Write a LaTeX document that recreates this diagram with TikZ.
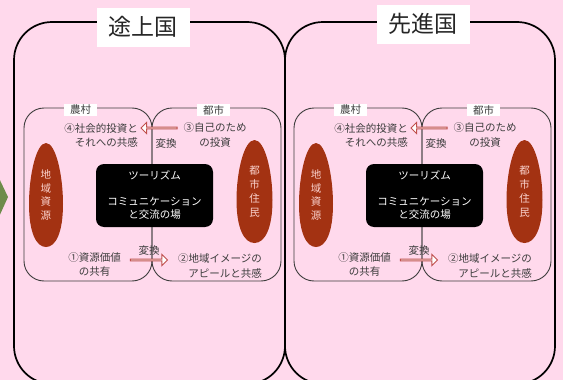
\documentclass[tikz,border=0pt]{standalone}
\usepackage{fontspec}
\setmainfont{Noto Sans CJK JP}
\usetikzlibrary{shapes.geometric,shapes.arrows}
\definecolor{bgpink}{RGB}{255,217,236}
\definecolor{eggred}{RGB}{163,50,18}
\definecolor{txtgray}{RGB}{60,60,60}
\definecolor{arrred}{RGB}{192,80,77}
\definecolor{leaf}{RGB}{110,140,75}
\definecolor{eggtxt}{RGB}{250,210,205}
\begin{document}
\begin{tikzpicture}[x=1pt,y=-1pt,
  bigbox/.style={draw=black,line width=1.7pt,rounded corners=38pt},
  areabox/.style={draw=txtgray,line width=0.9pt,rounded corners=20pt},
  titlebox/.style={fill=white,minimum width=93pt,minimum height=39pt,inner sep=0pt,font=\fontsize{23}{26}\selectfont,text=black!85},
  arealabel/.style={fill=white,inner xsep=6pt,inner ysep=1.5pt,font=\fontsize{10.5}{13}\selectfont,text=txtgray},
  eggfill/.style={fill=eggred},
  eggtext/.style={inner sep=0pt,text=eggtxt,font=\fontsize{10.5}{13.8}\selectfont,align=center},
  hub/.style={fill=black,rounded corners=8pt,minimum width=117pt,minimum height=63pt,inner sep=0pt},
  hubtext/.style={text=white,font=\fontsize{10.5}{13.5}\selectfont,align=center,inner sep=0pt},
  lbl/.style={text=txtgray,font=\fontsize{10.5}{14.5}\selectfont,inner sep=0pt},
  blockarrow/.style={single arrow,draw=arrred,fill=white,line width=0.9pt,inner sep=0pt,minimum width=11pt,single arrow head extend=2.5pt}
]
\useasboundingbox (0,0) rectangle (563,380);
\fill[bgpink] (0,0) rectangle (563,380);
\fill[leaf] (-2,176) -- (8,197) -- (-2,219) -- cycle;
% big boxes
\draw[bigbox] (14,22) rectangle (285,384);
\draw[bigbox] (285,22) rectangle (555,384);
\node[titlebox] (titleL) at (143,27) {途上国};
\node[titlebox] (titleR) at (423,24) {先進国};
\foreach \o/\s in {0/L,270/R}{
\begin{scope}[xshift=\o pt]
  \draw[areabox] (24,108) rectangle (152,281);
  \draw[areabox] (152,108) rectangle (281,281);
  \node[arealabel] (rural\s) at (80.5,110) {農村};
  \node[arealabel] (city\s) at (213.5,110) {都市};
  \node[hub] (hub\s) at (154.5,195.5) {};
  \node[hubtext] (tour\s) at (154.5,175) {ツーリズム};
  \node[hubtext] (comm\s) at (154.5,208.5) {コミュニケーション\\と交流の場};
  % eggs
  \fill[eggfill] (46,143) .. controls (56,143) and (63,176) .. (63,204)
     .. controls (63,232) and (56,247) .. (46,247)
     .. controls (36,247) and (29,232) .. (29,204)
     .. controls (29,176) and (36,143) .. (46,143) -- cycle;
  \node[eggtext] (res\s) at (46,195) {地\\域\\資\\源};
  \fill[eggfill] (254.5,140) .. controls (265,140) and (272.5,172) .. (272.5,200)
     .. controls (272.5,228) and (265,243) .. (254.5,243)
     .. controls (244,243) and (236.5,228) .. (236.5,200)
     .. controls (236.5,172) and (244,140) .. (254.5,140) -- cycle;
  \node[eggtext] (cit\s) at (254.5,191.5) {都\\市\\住\\民};
  \node[lbl,align=right,anchor=east] (four\s) at (138,135.5) {④社会的投資と\\それへの共感};
  \node[lbl,align=center] (three\s) at (215,135) {③自己のため\\の投資};
  \node[lbl] (convT\s) at (166,144) {変換};
  \node[blockarrow,shape border rotate=180,minimum height=36pt] (arrT\s) at (159.5,128) {};
  \node[lbl,align=center] (one\s) at (94.5,264.5) {①資源価値\\の共有};
  \node[blockarrow,minimum height=37pt] (arrB\s) at (148.5,260) {};
  \node[lbl] (convB\s) at (149,251) {変換};
  \node[lbl,align=right,anchor=east] (two\s) at (262,266) {②地域イメージの\\アピールと共感};
\end{scope}
}
\end{tikzpicture}
\end{document}
